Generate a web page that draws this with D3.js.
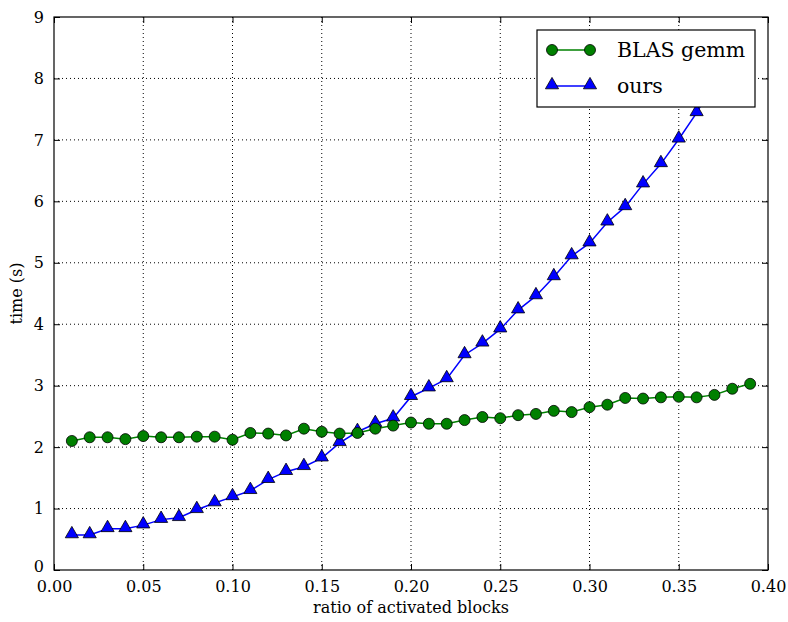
<!DOCTYPE html>
<html>
<head>
<meta charset="utf-8">
<script src="https://cdn.jsdelivr.net/npm/d3@7"></script>
<style>
  body { margin: 0; background: #fff; }
  text { font-family: "DejaVu Serif"; fill: #000; }
</style>
</head>
<body>
<svg id="chart" width="788" height="622" viewBox="0 0 788 622"></svg>
<script>
// data
const ratio = [0.01,0.02,0.03,0.04,0.05,0.06,0.07,0.08,0.09,0.10,
  0.11,0.12,0.13,0.14,0.15,0.16,0.17,0.18,0.19,0.20,
  0.21,0.22,0.23,0.24,0.25,0.26,0.27,0.28,0.29,0.30,
  0.31,0.32,0.33,0.34,0.35,0.36,0.37,0.38,0.39];
const blasTime = [2.10,2.16,2.16,2.13,2.18,2.16,2.16,2.17,2.17,2.12,
  2.23,2.22,2.19,2.30,2.25,2.22,2.23,2.30,2.35,2.40,
  2.38,2.38,2.44,2.49,2.47,2.52,2.54,2.59,2.57,2.65,
  2.69,2.80,2.79,2.81,2.82,2.81,2.85,2.95,3.03];
const oursTime = [0.57,0.57,0.67,0.67,0.73,0.82,0.85,0.98,1.09,1.19,
  1.29,1.47,1.60,1.68,1.82,2.07,2.25,2.38,2.47,2.82,
  2.96,3.11,3.50,3.69,3.92,4.23,4.46,4.77,5.11,5.32,
  5.66,5.91,6.28,6.61,7.01,7.44,7.95];
const xTicks = [0,0.05,0.10,0.15,0.20,0.25,0.30,0.35,0.40];
const yTicks = [0,1,2,3,4,5,6,7,8,9];
const seriesNames = ["BLAS gemm", "ours"];

const FONT = '"DejaVu Serif"';
const svg = d3.select('#chart');
const margin = { left: 54, right: 20, top: 17, bottom: 52 };
const width = 788 - margin.left - margin.right;
const height = 622 - margin.top - margin.bottom;

const x = d3.scaleLinear().domain([0, 0.4]).range([0, width]);
const y = d3.scaleLinear().domain([0, 9]).range([height, 0]);

const g = svg.append('g')
  .attr('transform', `translate(${margin.left},${margin.top})`);

svg.append('defs').append('clipPath').attr('id', 'clip')
  .append('rect').attr('width', width).attr('height', height);

// grid
g.append('g').selectAll('line').data(xTicks.slice(1, -1)).join('line')
  .attr('x1', d => x(d)).attr('x2', d => x(d))
  .attr('y1', 0).attr('y2', height)
  .attr('stroke', '#000').attr('stroke-width', 1).attr('stroke-dasharray', '1,3');
g.append('g').selectAll('line').data(yTicks.slice(1, -1)).join('line')
  .attr('y1', d => y(d)).attr('y2', d => y(d))
  .attr('x1', 0).attr('x2', width)
  .attr('stroke', '#000').attr('stroke-width', 1).attr('stroke-dasharray', '1,3');

// axes with inward ticks
const fmtX = d3.format('.2f');
const xAxis = g.append('g').attr('transform', `translate(0,${height})`)
  .call(d3.axisBottom(x).tickValues(xTicks).tickFormat(fmtX).tickSize(-6).tickPadding(11));
const xTop = g.append('g')
  .call(d3.axisTop(x).tickValues(xTicks).tickFormat('').tickSize(-6));
const yAxis = g.append('g')
  .call(d3.axisLeft(y).tickValues(yTicks).tickFormat(d3.format('d')).tickSize(-6).tickPadding(10));
const yRight = g.append('g').attr('transform', `translate(${width},0)`)
  .call(d3.axisRight(y).tickValues(yTicks).tickFormat('').tickSize(-6));
[xAxis, xTop, yAxis, yRight].forEach(a => {
  a.attr('font-family', FONT).attr('font-size', 16);
  a.select('.domain').remove();
  a.selectAll('line').attr('stroke', '#000').attr('stroke-width', 1);
});
// lift the "0" on the y axis a touch so it clears "0.00"
yAxis.selectAll('.tick text').filter(d => d === 0).attr('dy', '0.1em');

g.append('rect').attr('width', width).attr('height', height)
  .attr('fill', 'none').attr('stroke', '#000').attr('stroke-width', 1.2);

const plot = g.append('g').attr('clip-path', 'url(#clip)');

const blasData = ratio.map((r, i) => ({ x: r, y: blasTime[i] }));
const oursData = oursTime.map((t, i) => ({ x: ratio[i], y: t }));
const line = d3.line().x(d => x(d.x)).y(d => y(d.y));

plot.append('path').datum(blasData).attr('d', line)
  .attr('fill', 'none').attr('stroke', '#008000').attr('stroke-width', 1.5);
plot.append('path').datum(oursData).attr('d', line)
  .attr('fill', 'none').attr('stroke', '#0000ff').attr('stroke-width', 1.5);

const tri = d3.symbol().type(d3.symbolTriangle).size(75);

plot.selectAll('.tri').data(oursData).join('path')
  .attr('class', 'tri')
  .attr('transform', d => `translate(${x(d.x)},${y(d.y) - 1})`)
  .attr('d', tri)
  .attr('fill', '#0000ff').attr('stroke', '#000').attr('stroke-width', 0.8);

plot.selectAll('.dot').data(blasData).join('circle')
  .attr('class', 'dot')
  .attr('cx', d => x(d.x)).attr('cy', d => y(d.y)).attr('r', 5.5)
  .attr('fill', '#008000').attr('stroke', '#000').attr('stroke-width', 0.8);

// legend
const lg = g.append('g').attr('transform', `translate(${537 - margin.left},${30 - margin.top})`);
lg.append('rect').attr('width', 218).attr('height', 77)
  .attr('fill', '#fff').attr('stroke', '#000').attr('stroke-width', 1.2);
const colors = ['#008000', '#0000ff'];
seriesNames.forEach((name, i) => {
  const cy = 20 + i * 36;
  lg.append('line').attr('x1', 15).attr('x2', 53).attr('y1', cy).attr('y2', cy)
    .attr('stroke', colors[i]).attr('stroke-width', 1.5);
  [15, 53].forEach(px => {
    if (i === 0) {
      lg.append('circle').attr('cx', px).attr('cy', cy).attr('r', 5.5)
        .attr('fill', colors[i]).attr('stroke', '#000').attr('stroke-width', 0.8);
    } else {
      lg.append('path').attr('transform', `translate(${px},${cy - 1})`).attr('d', tri)
        .attr('fill', colors[i]).attr('stroke', '#000').attr('stroke-width', 0.8);
    }
  });
  lg.append('text').attr('x', 80).attr('y', cy + 7)
    .attr('font-family', FONT).attr('font-size', 20.5).text(name);
});

// axis labels
svg.append('text')
  .attr('x', margin.left + width / 2).attr('y', 613)
  .attr('text-anchor', 'middle').attr('font-family', FONT).attr('font-size', 16)
  .text('ratio of activated blocks');
svg.append('text')
  .attr('transform', `translate(22,${margin.top + height / 2}) rotate(-90)`)
  .attr('text-anchor', 'middle').attr('font-family', FONT).attr('font-size', 16)
  .text('time (s)');
</script>
</body>
</html>
